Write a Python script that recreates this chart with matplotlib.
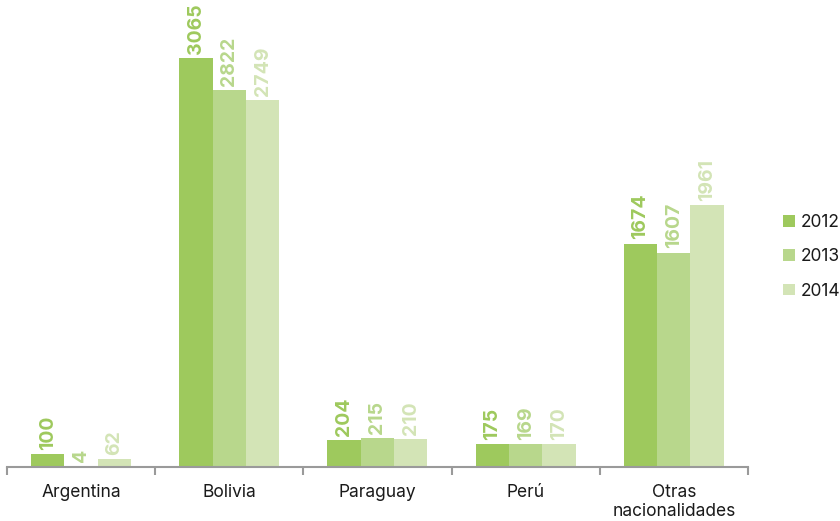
import matplotlib
matplotlib.use("Agg")
import matplotlib.pyplot as plt
import numpy as np

categories = ["Argentina", "Bolivia", "Paraguay", "Perú", "Otras\nnacionalidades"]
years = ["2012", "2013", "2014"]
v2012 = [100, 3065, 204, 175, 1674]
v2013 = [4, 2822, 215, 169, 1607]
v2014 = [62, 2749, 210, 170, 1961]
colors = ["#9ec95d", "#b8d78c", "#d3e4b6"]

plt.rcParams["font.family"] = ["Inter", "DejaVu Sans"]

fig = plt.figure(figsize=(8.4, 5.21), dpi=100)
ax = fig.add_axes([0.0083, 0.1036, 0.882, 0.8964])

x = np.arange(len(categories))
w = 0.225
series = [v2012, v2013, v2014]
for i, (vals, c, yr) in enumerate(zip(series, colors, years)):
    pos = x + (i - 1) * w
    ax.bar(pos, vals, width=w, color=c, label=yr, linewidth=0)
    for p, v in zip(pos, vals):
        ax.annotate(str(v), (p, v), xytext=(0, 3), textcoords="offset points",
                    rotation=90, ha="center", va="bottom", color=c,
                    fontsize=14, fontweight="bold")

ax.set_xlim(-0.5, len(categories) - 0.5)
ax.set_ylim(0, 3500)
for s in ["top", "right", "left"]:
    ax.spines[s].set_visible(False)
ax.spines["bottom"].set_color("#9a9a9a")
ax.spines["bottom"].set_linewidth(1.5)
ax.set_yticks([])
ax.set_xticks(x)
ax.set_xticklabels(categories, fontsize=12.5, color="#1a1a1a", linespacing=1.2)
ax.tick_params(axis="x", length=0, pad=12)
ax.set_xticks(np.arange(-0.5, len(categories)), minor=True)
ax.tick_params(axis="x", which="minor", length=6, width=1.5, color="#9a9a9a")

leg = fig.legend(loc="center left", bbox_to_anchor=(0.918, 0.507), frameon=False,
                 fontsize=12.5, handlelength=0.65, handleheight=0.65,
                 handletextpad=0.35, labelspacing=1.0, borderaxespad=0.3)
for t in leg.get_texts():
    t.set_color("#1a1a1a")

fig.savefig("out.png", dpi=100)
